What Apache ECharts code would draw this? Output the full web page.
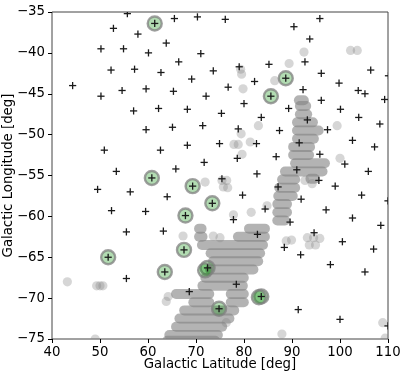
<!DOCTYPE html>
<html><head><meta charset="utf-8">
<script src="https://cdn.jsdelivr.net/npm/echarts@6/dist/echarts.min.js"></script>
<style>html,body{margin:0;padding:0;background:#fff}#c{width:400px;height:375px}</style>
</head><body><div id="c"></div>
<script>
// Axis ranges / ticks
const xRange = [40, 110];
const yRange = [-75, -35];
const xStep = 10;
const yStep = 5;

// Plus markers: [latitude, longitude]
const plusPoints = [
  [55.7,-35.2],[52.8,-37.0],[57.9,-37.7],[65.5,-35.8],[70.3,-35.6],[61.4,-36.4],[63.8,-38.8],
  [50.2,-39.5],[54.9,-39.5],[60.1,-40.0],[71.0,-40.1],[52.3,-42.1],[57.2,-42.0],[62.7,-42.4],
  [66.4,-41.1],[69.1,-43.2],[44.3,-44.0],[50.2,-45.3],[54.6,-44.6],[59.6,-44.4],[65.3,-44.7],
  [57.0,-47.1],[62.2,-46.8],[68.2,-46.9],[59.6,-49.4],[65.1,-49.1],[50.9,-51.9],[62.6,-51.9],
  [68.2,-51.3],[53.4,-54.5],[65.8,-54.2],[60.8,-55.3],[69.3,-56.3],[76.1,-35.9],[90.4,-36.8],
  [95.8,-35.8],[93.7,-38.3],[73.6,-42.2],[79.0,-41.7],[85.2,-41.4],[92.7,-41.1],[96.1,-42.5],
  [106.4,-42.1],[82.2,-43.5],[76.7,-44.2],[88.7,-43.1],[85.6,-45.3],[72.1,-45.3],[80.0,-46.2],
  [92.3,-44.5],[99.8,-43.7],[103.8,-44.6],[105.2,-45.0],[109.3,-45.7],[110.1,-42.8],[89.3,-46.8],
  [96.1,-45.8],[100.1,-46.9],[75.3,-47.4],[83.6,-47.9],[93.2,-48.2],[103.9,-47.9],[71.4,-48.9],
  [78.8,-49.3],[87.4,-49.5],[97.4,-49.4],[108.3,-48.7],[74.9,-51.1],[82.6,-51.1],[91.5,-51.0],
  [102.6,-50.7],[107.2,-51.5],[71.7,-53.4],[78.6,-52.9],[86.7,-52.7],[95.8,-52.4],[101.0,-53.6],
  [91.0,-54.3],[105.9,-54.5],[82.7,-54.8],[75.4,-55.4],[95.6,-55.6],[87.1,-56.4],[99.0,-56.3],
  [79.7,-57.4],[91.9,-57.9],[104.5,-57.4],[110.0,-58.1],[73.4,-58.4],[84.4,-59.1],[97.1,-59.2],
  [77.8,-60.4],[89.6,-60.7],[102.6,-60.2],[108.5,-61.1],[82.8,-62.2],[94.6,-62.0],[88.4,-63.8],
  [100.5,-63.1],[107.0,-64.0],[91.8,-64.7],[98.0,-65.9],[105.2,-66.8],[72.4,-66.3],[78.4,-68.3],
  [83.6,-69.8],[74.8,-71.3],[91.3,-71.4],[100.0,-72.6],[110.0,-73.4],[49.5,-56.7],[56.3,-57.0],
  [64.0,-57.6],[52.4,-59.3],[59.5,-59.4],[67.8,-59.9],[55.5,-61.9],[63.2,-61.8],[67.5,-64.1],
  [51.7,-65.0],[63.5,-66.8],[55.5,-67.6],[68.6,-69.2]
];

// Green highlighted sources: [latitude, longitude]
const greenPoints = [
  [61.4,-36.4],[88.7,-43.1],[85.6,-45.3],[60.8,-55.3],[69.3,-56.3],[73.4,-58.4],[67.8,-59.9],
  [67.5,-64.1],[51.7,-65.0],[63.5,-66.8],[72.4,-66.3],[71.9,-66.6],[83.6,-69.8],[83.1,-69.9],
  [74.8,-71.3]
];

// Isolated grey points: [latitude, longitude]
const grayPoints = [
  [92.5,-39.9],[102.2,-39.7],[103.6,-39.7],[89.4,-41.3],[86.4,-43.4],[79.3,-42.0],[79.5,-42.6],
  [79.8,-44.4],[83.0,-48.9],[79.4,-49.9],[99.4,-48.9],[77.9,-51.2],[78.8,-51.2],[81.3,-50.9],
  [79.6,-52.4],[100.0,-52.9],[92.7,-55.6],[94.2,-56.0],[71.9,-55.8],[75.4,-55.6],[76.4,-55.6],
  [75.7,-56.4],[76.6,-56.5],[77.8,-59.8],[81.5,-59.5],[84.8,-58.7],[88.8,-63.0],[89.9,-62.9],
  [93.2,-62.6],[94.5,-62.6],[95.8,-62.7],[93.6,-63.5],[94.9,-63.5],[67.3,-62.4],[73.6,-62.4],
  [75.0,-62.6],[43.2,-68.0],[49.3,-68.5],[50.0,-68.5],[50.6,-68.5],[64.2,-69.8],[63.8,-70.4],
  [76.3,-73.0],[87.9,-74.4],[108.9,-73.0],[109.4,-74.9],[49.0,-75.0]
];

// Dense grey band, as rows: [longitude, latitude from, latitude to]
const bandRows = [
  [-45.8,90.4,93.5],[-46.5,90.6,94.0],[-47.5,90.6,94.2],[-48.5,90.0,95.4],[-49.5,90.0,96.6],
  [-50.5,90.0,95.6],[-51.5,89.2,94.8],[-52.5,89.2,94.6],[-53.5,89.6,97.9],[-54.5,87.5,97.4],
  [-55.5,86.9,91.7],[-55.4,92.8,95.8],[-56.5,86.3,91.7],[-57.5,86.1,91.2],[-58.5,85.9,90.0],
  [-59.5,85.9,90.0],[-60.5,85.9,89.6],[-61.5,80.0,85.4],[-61.5,69.6,72.2],[-62.5,77.7,85.4],
  [-62.5,69.6,72.4],[-63.5,70.2,85.0],[-64.5,72.0,84.4],[-65.5,72.5,84.0],[-66.5,71.9,83.0],
  [-67.5,70.9,81.0],[-68.5,70.3,80.8],[-69.5,64.8,73.8],[-69.5,76.2,81.0],[-70.5,68.4,73.8],
  [-70.5,76.2,81.0],[-71.5,66.5,79.0],[-72.5,65.5,78.0],[-73.5,64.8,76.5],[-74.5,63.4,75.6],
  [-75.2,63.0,75.0]
];

const FONT = 'DejaVu Sans';
const minusFmt = v => String(v).replace('-', '\u2212');

const chart = echarts.init(document.getElementById('c'), null, {renderer: 'canvas'});

function bandItem(params, api) {
  const lon = api.value(0), a = api.value(1), b = api.value(2);
  const p1 = api.coord([a, lon]), p2 = api.coord([b, lon]);
  const h = 10;
  const w = Math.max(p2[0] - p1[0], h);
  return {type: 'rect', shape: {x: p1[0], y: p1[1] - h / 2, width: w, height: h, r: h / 2},
    style: {fill: 'rgba(128,128,128,0.6)'}};
}
function dotItem(params, api) {
  const p = api.coord([api.value(0), api.value(1)]);
  return {type: 'circle', shape: {cx: p[0], cy: p[1], r: 4.6}, style: {fill: 'rgba(128,128,128,0.32)'}};
}
function greenItem(params, api) {
  const p = api.coord([api.value(0), api.value(1)]);
  return {type: 'circle', shape: {cx: p[0], cy: p[1], r: 7}, style: {fill: 'rgba(0,140,0,0.3)', stroke: 'rgba(128,128,128,0.75)', lineWidth: 2.4}};
}
function plusItem(params, api) {
  const p = api.coord([api.value(0), api.value(1)]);
  const s = 3.6;
  const st = {stroke: '#1a1a1a', lineWidth: 1.3};
  return {type: 'group', children: [
    {type: 'line', shape: {x1: p[0] - s, y1: p[1], x2: p[0] + s, y2: p[1]}, style: st},
    {type: 'line', shape: {x1: p[0], y1: p[1] - s, x2: p[0], y2: p[1] + s}, style: st}
  ]};
}

const axisCommon = {
  type: 'value',
  axisLine: {show: false},
  splitLine: {show: false},
  axisTick: {show: true, length: 4, lineStyle: {color: '#000', width: 1}},
  axisLabel: {color: '#000', fontSize: 13.3, fontFamily: FONT, margin: 7, formatter: minusFmt},
  nameLocation: 'middle',
  nameMoveOverlap: false,
  nameTextStyle: {color: '#000', fontSize: 13.3, fontFamily: FONT}
};

chart.setOption({
  animation: false,
  backgroundColor: '#fff',
  grid: {left: 52, right: 12, top: 12, bottom: 36, containLabel: false, outerBoundsMode: 'none',
    show: true, borderColor: '#444', borderWidth: 1, backgroundColor: 'transparent'},
  xAxis: Object.assign({}, axisCommon, {min: xRange[0], max: xRange[1], interval: xStep, name: 'Galactic Latitude [deg]', nameGap: 19}),
  yAxis: Object.assign({}, axisCommon, {min: yRange[0], max: yRange[1], interval: yStep, name: 'Galactic Longitude [deg]', nameGap: 37}),
  series: [
    {type: 'custom', name: 'band', data: bandRows, encode: {x: [1, 2], y: 0}, renderItem: bandItem, clip: true, z: 1, silent: true},
    {type: 'custom', name: 'grey', data: grayPoints, encode: {x: 0, y: 1}, renderItem: dotItem, clip: true, z: 1, silent: true},
    {type: 'custom', name: 'green', data: greenPoints, encode: {x: 0, y: 1}, renderItem: greenItem, clip: true, z: 2, silent: true},
    {type: 'custom', name: 'plus', data: plusPoints, encode: {x: 0, y: 1}, renderItem: plusItem, clip: true, z: 3, silent: true}
  ]
});
</script></body></html>
